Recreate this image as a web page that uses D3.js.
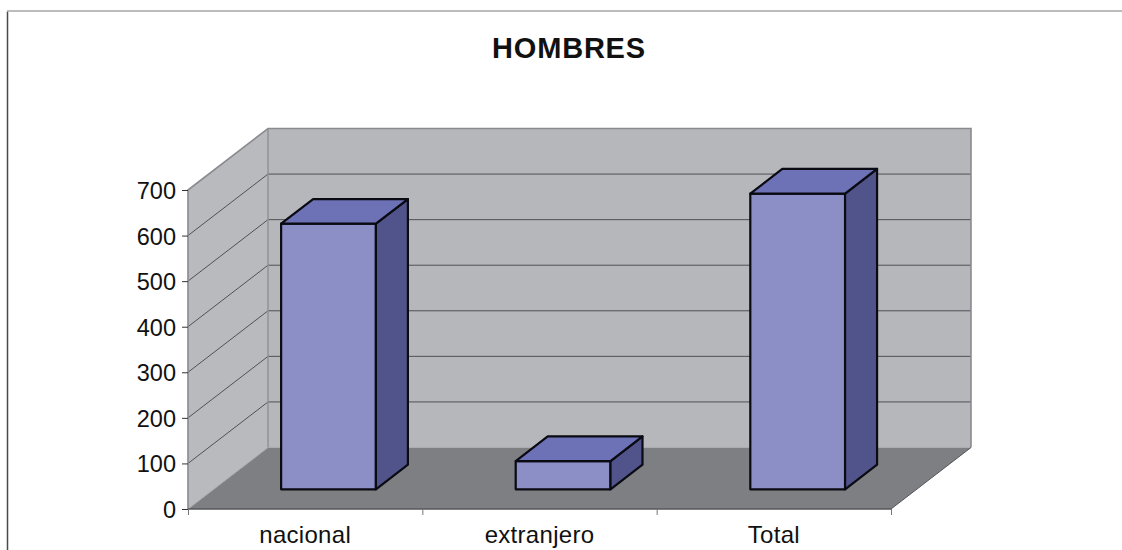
<!DOCTYPE html>
<html><head><meta charset="utf-8">
<script src="https://cdn.jsdelivr.net/npm/d3@7"></script>
<style>html,body{margin:0;padding:0;background:#fff}svg{display:block}text{font-family:"Liberation Sans",Arial,sans-serif;fill:#111}</style>
</head><body><svg id="c" width="1122" height="550"></svg>
<script>
const title = "HOMBRES";
const categories = ["nacional", "extranjero", "Total"];
const values = [583, 62, 649];
const yTicks = [0, 100, 200, 300, 400, 500, 600, 700];

const svg = d3.select("#c");
const W = {x0:188, x1:891, y0:509, y1:190, dx:80, dy:-61.5};
const x = d3.scaleBand().domain(categories).range([W.x0, W.x1]);
const xBar = d3.scaleBand().domain(categories).range([187.5, 887.5]).paddingInner(0.596).paddingOuter(0.29);
const y = d3.scaleLinear().domain([0, 700]).range([W.y0, W.y1]);
const P = (px, v, d) => [px + W.dx * d, y(v) + W.dy * d];
const poly = (pts, fill, stroke, sw) => svg.append("path")
  .attr("d", d3.line()(pts) + "Z").attr("fill", fill)
  .attr("stroke", stroke || "none").attr("stroke-width", sw || 0).attr("stroke-linejoin", "round");

// outer frame
svg.append("path").attr("d","M7.5 550V11.5").attr("stroke","#4a4a4a").attr("stroke-width",1.5).attr("fill","none");
svg.append("path").attr("d","M7 11H1122").attr("stroke","#a6a6a6").attr("stroke-width",1.5).attr("fill","none");

svg.append("text").attr("x",569).attr("y",57.5).attr("text-anchor","middle")
  .attr("font-size",29).attr("letter-spacing",0.8).attr("font-weight","bold").text(title);

// walls and floor
poly([P(W.x0,0,1),P(W.x1,0,1),P(W.x1,700,1),P(W.x0,700,1)],"#b6b7bb");
poly([P(W.x0,0,0),P(W.x0,0,1),P(W.x0,700,1),P(W.x0,700,0)],"#b9babd");
poly([P(W.x0,0,0),P(W.x1,0,0),P(W.x1,0,1),P(W.x0,0,1)],"#7e7f83");

// gridlines
yTicks.slice(1).forEach(t => {
  const line = d3.line()([P(W.x0,t,0),P(W.x0,t,1),P(W.x1,t,1)]);
  if (t < 700) svg.append("path").attr("d",line).attr("fill","none").attr("stroke","#44454a").attr("stroke-width",0.9);
});

// wall edges
svg.append("path").attr("d",d3.line()([P(W.x0,0,0),P(W.x0,700,0),P(W.x0,700,1),P(W.x1,700,1),P(W.x1,0,1)]))
  .attr("fill","none").attr("stroke","#8a8b8e").attr("stroke-width",1.6);
svg.append("path").attr("d",d3.line()([P(W.x0,0,1),P(W.x0,700,1)]))
  .attr("fill","none").attr("stroke","#8f9093").attr("stroke-width",1.4);
svg.append("path").attr("d",d3.line()([P(W.x0,0,0),P(W.x0,0,1)]))
  .attr("fill","none").attr("stroke","#a9aaad").attr("stroke-width",1);
svg.append("path").attr("d",d3.line()([P(W.x1,0,0),P(W.x1,0,1)]))
  .attr("fill","none").attr("stroke","#55565a").attr("stroke-width",1);

// axes
const gy = svg.append("g").attr("transform",`translate(${W.x0},0)`)
  .call(d3.axisLeft(y).tickValues(yTicks).tickSize(6).tickPadding(6).tickFormat(d3.format("d")));
gy.select(".domain").remove();
gy.selectAll("line").attr("stroke","#333");
gy.selectAll("text").attr("font-size",23.5).attr("dy","0.36em");

const edge = d3.scaleLinear().domain([0,3]).range([W.x0,W.x1]);
const gx = svg.append("g").attr("transform",`translate(0,${W.y0})`)
  .call(d3.axisBottom(edge).tickValues([0,1,2,3]).tickSize(6).tickFormat(""));
gx.select(".domain").attr("d",`M${W.x0} 0H${W.x1}`).attr("stroke","#55565a").attr("stroke-width",1.4);
gx.selectAll("line").attr("stroke","#777");
svg.selectAll("text.cat").data(categories).join("text").attr("class","cat")
  .attr("x",d=>x(d)+x.bandwidth()/2).attr("y",543).attr("text-anchor","middle")
  .attr("font-size",24).attr("letter-spacing",0.3).text(d=>d);

// bars
const d1 = 0.32, d2 = 0.72, ink = "#0a0a12";
categories.forEach((c,i) => {
  const a = xBar(c), b = a + xBar.bandwidth(), v = values[i];
  poly([P(a,v,d1),P(b,v,d1),P(b,0,d1),P(a,0,d1)],"#8c8fc6",ink,2.2);
  poly([P(b,v,d1),P(b,v,d2),P(b,0,d2),P(b,0,d1)],"#50548b",ink,2.2);
  poly([P(a,v,d1),P(a,v,d2),P(b,v,d2),P(b,v,d1)],"#6d71b5",ink,2.2);
});
</script></body></html>
